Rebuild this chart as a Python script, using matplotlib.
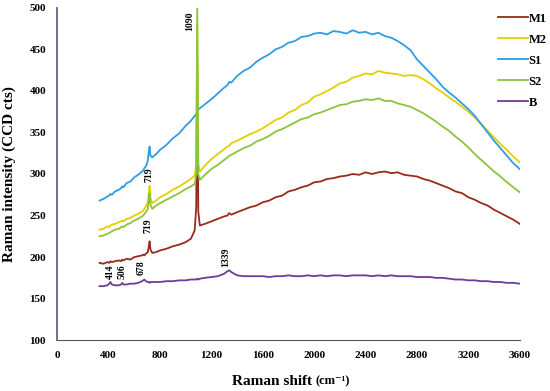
import matplotlib
matplotlib.use("Agg")
import matplotlib.pyplot as plt

# Raman shift grid (cm-1) shared by all spectra
shift = [330, 360, 390, 405, 414, 425, 450, 480, 497, 506, 515, 540, 570, 600,
         630, 660, 670, 678, 690, 705, 712, 719, 726, 740, 770, 800, 850, 900,
         950, 1000, 1040, 1070, 1082, 1090, 1098, 1110, 1150, 1200, 1250, 1300,
         1325, 1339, 1355, 1400,
         1450, 1500, 1550, 1600, 1650, 1700, 1750, 1800, 1850, 1900, 1950, 2000,
         2050, 2100, 2150, 2200, 2250, 2300, 2350, 2400, 2450, 2500, 2550, 2600,
         2650, 2700, 2750, 2800, 2850, 2900, 2950, 3000, 3050, 3100, 3150, 3200,
         3250, 3300, 3350, 3400, 3450, 3500, 3550, 3600]

m1 = [193, 192, 194, 193, 195, 194, 195, 196, 195, 197, 196, 198, 197, 200,
      201, 202, 203, 202, 204, 206, 212, 219, 209, 205, 206, 208, 210, 213,
      215, 218, 222, 232, 260, 430, 255, 238, 240, 243, 246, 249,
      250, 253, 251, 254,
      257, 260, 262, 266, 268, 272, 274, 279, 281, 284, 286, 290,
      291, 294, 295, 297, 298, 300, 299, 302, 300, 302, 303, 301,
      302, 299, 298, 297, 294, 292, 289, 286, 283, 279, 277, 272,
      269, 265, 262, 257, 253, 249, 245, 240]

m2 = [233, 234, 237, 236, 238, 239, 240, 242, 243, 244, 243, 246, 247, 250,
      252, 255, 256, 258, 261, 266, 276, 286, 271, 265, 268, 272, 276, 281,
      285, 290, 294, 298, 310, 480, 312, 303, 310, 318, 324, 330,
      333, 334, 337, 340,
      344, 348, 351, 355, 360, 365, 368, 374, 377, 383, 386, 393,
      396, 400, 404, 409, 411, 416, 418, 421, 420, 424, 422, 421,
      420, 418, 419, 418, 414, 409, 403, 398, 392, 387, 381, 375,
      368, 360, 352, 344, 336, 329, 321, 314]

s1 = [268, 270, 273, 274, 276, 275, 279, 281, 283, 285, 284, 289, 291, 296,
      299, 303, 304, 307, 309, 316, 326, 333, 322, 320, 324, 329, 335, 343,
      349, 358, 364, 370, 372, 376, 378, 379, 384, 390, 397, 404,
      407, 411, 410, 418,
      424, 428, 435, 440, 444, 450, 453, 458, 460, 465, 466, 469,
      470, 468, 472, 471, 469, 473, 470, 471, 468, 470, 466, 464,
      460, 455, 449, 438, 430, 422, 414, 405, 398, 392, 385, 378,
      370, 360, 350, 340, 331, 322, 313, 306]

s2 = [225, 226, 228, 229, 230, 231, 233, 234, 236, 237, 236, 239, 241, 244,
      246, 249, 250, 252, 254, 258, 268, 277, 263, 258, 262, 265, 269, 273,
      277, 282, 285, 288, 300, 500, 300, 293, 299, 306, 311, 317,
      320, 322, 323, 327,
      331, 334, 339, 342, 346, 351, 354, 358, 362, 366, 368, 372,
      374, 377, 380, 383, 384, 387, 388, 390, 389, 391, 388, 388,
      385, 383, 381, 377, 373, 368, 363, 357, 352, 345, 339, 332,
      324, 317, 310, 303, 297, 290, 284, 278]

b = [165, 165, 166, 168, 170, 167, 166, 166, 167, 169, 167, 167, 168, 168,
     169, 171, 172, 173, 171, 170, 170, 169, 170, 170, 170, 170, 171, 171,
     172, 172, 173, 173, 173, 174, 173, 174, 175, 176, 177, 180,
     183, 184, 182, 178,
     177, 177, 177, 177, 176, 177, 177, 178, 177, 177, 178, 177,
     178, 177, 178, 178, 177, 178, 178, 178, 177, 178, 177, 178,
     177, 177, 177, 176, 176, 176, 175, 175, 174, 173, 173, 172,
     172, 171, 171, 170, 170, 169, 169, 168]

names = ["M1", "M2", "S1", "S2", "B"]
colors = ["#9a2a1c", "#e3d000", "#2f9ce6", "#8cc43c", "#6a3d9a"]

# peak labels: (text, x, y)
peak_labels = [("414", 412, 182), ("506", 505, 182), ("678", 655, 187),
               ("1339", 1314, 200), ("719", 708, 238), ("719", 715, 299),
               ("1090", 1034, 484)]

plt.rcParams["font.family"] = ["Liberation Serif", "DejaVu Serif"]
plt.rcParams["font.weight"] = "bold"

fig = plt.figure(figsize=(5.5, 3.91), dpi=100)
ax = fig.add_axes([0.104, 0.130, 0.841, 0.850])

for name, ys, c in zip(names, [m1, m2, s1, s2, b], colors):
    ax.plot(shift, ys, color=c, lw=1.3, label=name)

for txt, x, y in peak_labels:
    ax.text(x, y, txt, rotation=90, ha="center", va="center",
            fontsize=7, fontweight="bold")

ax.set_xlim(0, 3600)
ax.set_ylim(100, 500)
ax.set_xticks(range(0, 3601, 400))
ax.set_yticks(range(100, 501, 50))
ax.tick_params(length=0, labelsize=8, pad=8)
for lab in ax.get_xticklabels() + ax.get_yticklabels():
    lab.set_fontweight("bold")

ax.spines["top"].set_visible(False)
ax.spines["right"].set_visible(False)
ax.spines["left"].set_color("#6e5f80")
ax.spines["left"].set_linewidth(1.3)
ax.spines["bottom"].set_color("#555555")

ax.set_ylabel("Raman intensity (CCD cts)", fontsize=11, fontweight="bold",
              labelpad=10)
fig.text(0.568, 0.008, r"Raman shift", fontsize=11, fontweight="bold",
         ha="right", va="bottom")
fig.text(0.573, 0.010, "(cm\u207b\u00b9)", fontsize=9, fontweight="bold",
         ha="left", va="bottom")

leg = ax.legend(loc="upper right", bbox_to_anchor=(1.01, 0.99),
                bbox_transform=fig.transFigure, frameon=False,
                prop={"weight": "bold", "size": 9}, handlelength=2.4,
                handletextpad=0.1, labelspacing=0.72, borderaxespad=0.3)

fig.savefig("out.png", dpi=100)
